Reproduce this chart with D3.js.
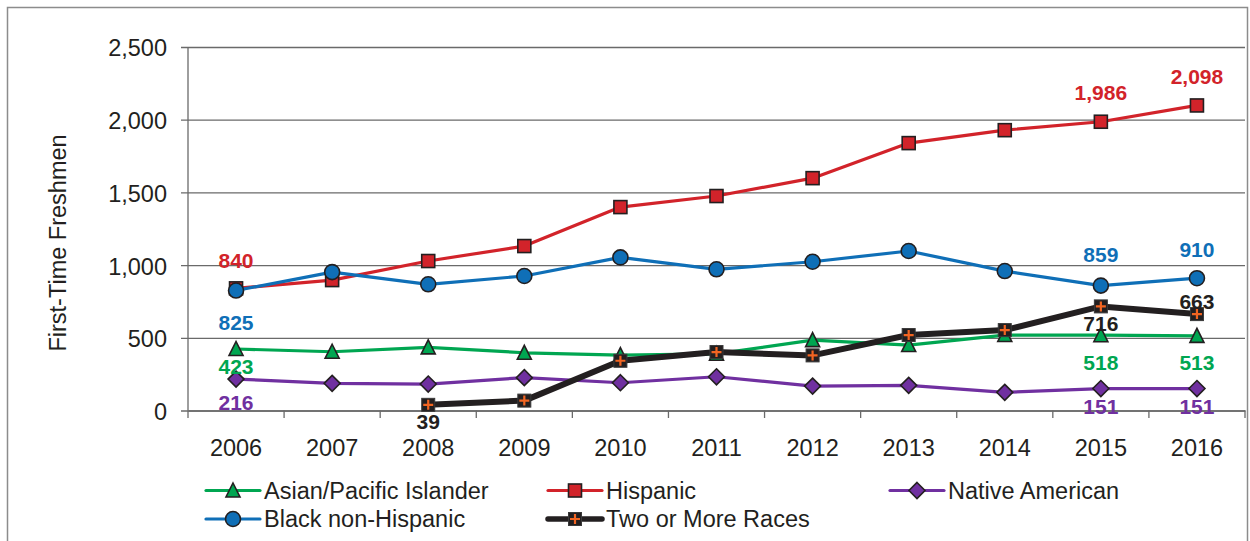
<!DOCTYPE html>
<html>
<head>
<meta charset="utf-8">
<script src="https://cdn.jsdelivr.net/npm/d3@7"></script>
<style>
  html, body { margin: 0; padding: 0; background: #fff; }
  svg { display: block; font-family: "Liberation Sans", Arial, sans-serif; }
</style>
</head>
<body>
<svg id="chart" width="1250" height="541"></svg>
<script>
// ---- data ----
const years = ["2006","2007","2008","2009","2010","2011","2012","2013","2014","2015","2016"];
const asianPacific = [423, 404, 434, 397, 381, 390, 484, 450, 519, 518, 513];
const hispanic     = [840, 897, 1028, 1131, 1399, 1475, 1598, 1839, 1928, 1986, 2098];
const nativeAm     = [216, 187, 182, 226, 191, 232, 168, 173, 125, 151, 151];
const blackNonHisp = [825, 952, 868, 925, 1053, 971, 1023, 1097, 959, 859, 910];
const twoOrMore    = [null, null, 39, 68, 342, 402, 379, 519, 553, 716, 663];
const yTicks = [0, 500, 1000, 1500, 2000, 2500];
const seriesNames = ["Asian/Pacific Islander", "Hispanic", "Native American", "Black non-Hispanic", "Two or More Races"];
const yTitle = "First-Time Freshmen";

// labelled points: series index, year index
const labelled = [
  [1,0],[1,9],[1,10],
  [3,0],[3,9],[3,10],
  [0,0],[0,9],[0,10],
  [2,0],[2,9],[2,10],
  [4,2],[4,9],[4,10]
];

// ---- styling / layout ----
const labelDy = { "1-0":-28, "1-9":-29, "1-10":-29,
                  "3-0":32, "3-9":-31, "3-10":-29,
                  "0-0":17, "0-9":27, "0-10":27,
                  "2-0":23, "2-9":18, "2-10":18,
                  "4-2":17, "4-9":17, "4-10":-13 };
const styles = [
  {color:"#00A651", width:3.2, marker:"triangle"},
  {color:"#D2232A", width:3.2, marker:"square"},
  {color:"#7030A0", width:3.2, marker:"diamond"},
  {color:"#0F6FB7", width:3.2, marker:"circle"},
  {color:"#231F20", width:6,   marker:"plus"}
];
const allValues = [asianPacific, hispanic, nativeAm, blackNonHisp, twoOrMore];
const drawOrder = [0, 1, 2, 3, 4];

const svg = d3.select("#chart");
const pLeft = 188, pRight = 1245, pTop = 47, pBottom = 410.5;
const textColor = "#231F20", gridColor = "#6A6A6A";

// outer border
svg.append("rect").attr("x", 7.5).attr("y", 7.5).attr("width", 1240).attr("height", 560)
  .attr("fill", "none").attr("stroke", "#8C8C8C").attr("stroke-width", 1.5);

const x = d3.scaleBand().domain(years).range([pLeft, pRight]).padding(0);
const y = d3.scaleLinear().domain([0, 2500]).range([pBottom, pTop]);
const cx = d => x(d) + x.bandwidth() / 2;

// gridlines + y tick labels
const yAxis = svg.append("g").attr("transform", `translate(${pRight},0)`)
  .call(d3.axisLeft(y).tickValues(yTicks).tickSize(pRight - 181).tickPadding(14)
        .tickFormat(d3.format(",")));
yAxis.select(".domain").remove();
yAxis.selectAll("line").attr("stroke", gridColor).attr("stroke-width", 1.3);
yAxis.selectAll("text").attr("font-size", "23.5px").attr("fill", textColor)
  .attr("font-family", "'Liberation Sans', Arial, sans-serif").attr("dy", "0.38em");

// y axis title
svg.append("text").attr("transform", "translate(58,243) rotate(-90)")
  .attr("text-anchor", "middle").attr("dy", "0.36em")
  .attr("font-size", "23.5px").attr("fill", textColor).text(yTitle);

// y axis line
svg.append("line").attr("x1", pLeft).attr("x2", pLeft).attr("y1", pTop).attr("y2", pBottom)
  .attr("stroke", gridColor).attr("stroke-width", 1.3);

// x axis
const xAxis = svg.append("g").attr("transform", `translate(0,${pBottom})`)
  .call(d3.axisBottom(x).tickSize(0).tickPadding(29));
xAxis.select(".domain").attr("stroke", gridColor).attr("stroke-width", 1.3);
xAxis.selectAll("text").attr("font-size", "23.5px").attr("fill", textColor)
  .attr("font-family", "'Liberation Sans', Arial, sans-serif");
// boundary ticks
const bounds = years.map(d => x(d)).concat([x(years[years.length-1]) + x.bandwidth()]);
svg.append("g").selectAll("line").data(bounds).join("line")
  .attr("x1", d => d).attr("x2", d => d).attr("y1", pBottom).attr("y2", pBottom + 7.5)
  .attr("stroke", gridColor).attr("stroke-width", 1.3);

// marker drawing
function drawMarker(g, type, color, px, py) {
  const s = "#231F20", sw = 1.6;
  if (type === "triangle") {
    const h = 13, w = 14;
    g.append("path").attr("d", `M${px},${py - h/2 - 1}L${px + w/2},${py + h/2}L${px - w/2},${py + h/2}Z`)
      .attr("fill", color).attr("stroke", s).attr("stroke-width", sw);
  } else if (type === "square") {
    g.append("rect").attr("x", px - 6.5).attr("y", py - 6.5).attr("width", 13).attr("height", 13)
      .attr("fill", color).attr("stroke", s).attr("stroke-width", sw);
  } else if (type === "diamond") {
    g.append("path").attr("d", `M${px},${py - 8}L${px + 8},${py}L${px},${py + 8}L${px - 8},${py}Z`)
      .attr("fill", color).attr("stroke", s).attr("stroke-width", sw);
  } else if (type === "circle") {
    g.append("circle").attr("cx", px).attr("cy", py).attr("r", 7.5)
      .attr("fill", color).attr("stroke", s).attr("stroke-width", sw);
  } else if (type === "plus") {
    g.append("rect").attr("x", px - 6.5).attr("y", py - 6.5).attr("width", 13).attr("height", 13)
      .attr("fill", "#231F20").attr("stroke", "#3a3a3a").attr("stroke-width", 1);
    g.append("path").attr("d", `M${px - 5},${py}H${px + 5}M${px},${py - 5}V${py + 5}`)
      .attr("stroke", "#F26522").attr("stroke-width", 2.2).attr("fill", "none");
  }
}

// series
drawOrder.forEach(si => {
  const vals = allValues[si], st = styles[si];
  const pts = years.map((yr, i) => ({yr, v: vals[i]})).filter(d => d.v !== null);
  const g = svg.append("g");
  g.append("path").datum(pts)
    .attr("d", d3.line().x(d => cx(d.yr)).y(d => y(d.v)))
    .attr("fill", "none").attr("stroke", st.color).attr("stroke-width", st.width)
    .attr("stroke-linejoin", "round");
  pts.forEach(d => drawMarker(g, st.marker, st.color, cx(d.yr), y(d.v)));
});

// data labels
const labelColors = ["#00A651", "#D2232A", "#7030A0", "#0F6FB7", "#231F20"];
svg.append("g").selectAll("text").data(labelled).join("text")
  .attr("x", d => cx(years[d[1]]))
  .attr("y", d => y(allValues[d[0]][d[1]]) + labelDy[d[0] + "-" + d[1]])
  .attr("dy", "0.36em")
  .attr("text-anchor", "middle")
  .attr("font-size", "21px").attr("font-weight", "bold")
  .attr("fill", d => labelColors[d[0]])
  .text(d => d3.format(",")(allValues[d[0]][d[1]]));

// legend
const legendItems = [
  {si:0, lx:206, ly:490.5}, {si:1, lx:548, ly:490.5}, {si:2, lx:890, ly:490.5},
  {si:3, lx:206, ly:519},   {si:4, lx:548, ly:519}
];
const lg = svg.append("g");
legendItems.forEach(it => {
  const st = styles[it.si];
  lg.append("line").attr("x1", it.lx).attr("x2", it.lx + 54).attr("y1", it.ly).attr("y2", it.ly)
    .attr("stroke", st.color).attr("stroke-width", st.width === 6 ? 5.5 : 3.2)
    .attr("stroke-linecap", "round");
  drawMarker(lg, st.marker, st.color, it.lx + 27, it.ly);
  lg.append("text").attr("x", it.lx + 58).attr("y", it.ly).attr("dy", "0.36em")
    .attr("font-size", "23.5px").attr("fill", textColor)
    .text(seriesNames[it.si]);
});
</script>
</body>
</html>
